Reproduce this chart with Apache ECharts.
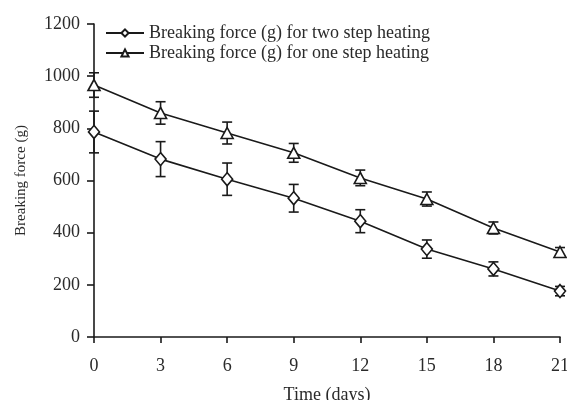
<!DOCTYPE html>
<html><head><meta charset="utf-8">
<script src="https://cdn.jsdelivr.net/npm/echarts@6/dist/echarts.min.js"></script>
<style>html,body{margin:0;padding:0;background:#fff}#c{width:567px;height:400px}</style>
</head><body><div id="c"></div>
<script>
var days = [0, 3, 6, 9, 12, 15, 18, 21];
var twoStep = [786, 682, 605, 532, 444, 337, 261, 176];
var twoStepErr = [80, 67, 62, 53, 44, 35, 27, 18];
var oneStep = [966, 859, 782, 706, 610, 529, 418, 326];
var oneStepErr = [47, 43, 42, 36, 30, 27, 23, 17];
var seriesNames = ['Breaking force (g) for two step heating', 'Breaking force (g) for one step heating'];

var font = 'Liberation Serif, Times New Roman, serif';
var ink = '#1a1a1a';
var txt = '#2a2a2a';

function pairs(v) { return days.map(function (d, i) { return [d, v[i]]; }); }
function errData(v, e) { return days.map(function (d, i) { return [d, v[i] - e[i], v[i] + e[i]]; }); }

function errRender(params, api) {
  var x = api.value(0);
  var lo = api.coord([x, api.value(1)]);
  var hi = api.coord([x, api.value(2)]);
  var w = 5;
  var st = { stroke: ink, lineWidth: 1.6 };
  return { type: 'group', children: [
    { type: 'line', shape: { x1: lo[0], y1: lo[1], x2: hi[0], y2: hi[1] }, style: st },
    { type: 'line', shape: { x1: lo[0] - w, y1: lo[1], x2: lo[0] + w, y2: lo[1] }, style: st },
    { type: 'line', shape: { x1: hi[0] - w, y1: hi[1], x2: hi[0] + w, y2: hi[1] }, style: st }
  ]};
}

var chart = echarts.init(document.getElementById('c'), null, { renderer: 'canvas' });
chart.setOption({
  animation: false,
  backgroundColor: '#fff',
  grid: { left: 94, right: 7, top: 24, bottom: 63, containLabel: false, outerBoundsMode: 'none' },
  legend: {
    orient: 'vertical', left: 100, top: 19, itemGap: 2,
    itemWidth: 38, itemHeight: 9,
    textStyle: { fontFamily: font, fontSize: 18, color: txt },
    data: seriesNames
  },
  xAxis: {
    type: 'value', min: 0, max: 21, interval: 3,
    name: 'Time (days)', nameLocation: 'middle', nameGap: 49,
    nameTextStyle: { fontFamily: font, fontSize: 18, color: txt },
    axisLine: { lineStyle: { color: ink, width: 1.6 } },
    axisTick: { show: true, inside: false, length: 6, lineStyle: { color: ink, width: 1.6 } },
    axisLabel: { fontFamily: font, fontSize: 18, color: txt, margin: 20 },
    splitLine: { show: false }
  },
  yAxis: {
    type: 'value', min: 0, max: 1200, interval: 200,
    name: 'Breaking force (g)', nameLocation: 'middle', nameGap: 65, nameRotate: 90,
    nameTextStyle: { fontFamily: font, fontSize: 15, color: txt },
    axisLine: { show: true, lineStyle: { color: ink, width: 1.6 } },
    axisTick: { show: true, inside: false, length: 7, lineStyle: { color: ink, width: 1.6 } },
    axisLabel: { fontFamily: font, fontSize: 18, color: txt, margin: 14, formatter: function (v) { return String(v); } },
    splitLine: { show: false }
  },
  series: [
    { type: 'custom', name: 'err2', renderItem: errRender, data: errData(twoStep, twoStepErr), z: 1, silent: true },
    { type: 'custom', name: 'err1', renderItem: errRender, data: errData(oneStep, oneStepErr), z: 1, silent: true },
    {
      type: 'line', name: seriesNames[0], data: pairs(twoStep), z: 3,
      symbol: 'diamond', symbolSize: [11, 13],
      lineStyle: { color: ink, width: 1.6 },
      itemStyle: { color: '#fff', borderColor: ink, borderWidth: 1.6 }
    },
    {
      type: 'line', name: seriesNames[1], data: pairs(oneStep), z: 3,
      symbol: 'triangle', symbolSize: [12, 11],
      lineStyle: { color: ink, width: 1.6 },
      itemStyle: { color: '#fff', borderColor: ink, borderWidth: 1.6 }
    }
  ]
});
</script></body></html>
